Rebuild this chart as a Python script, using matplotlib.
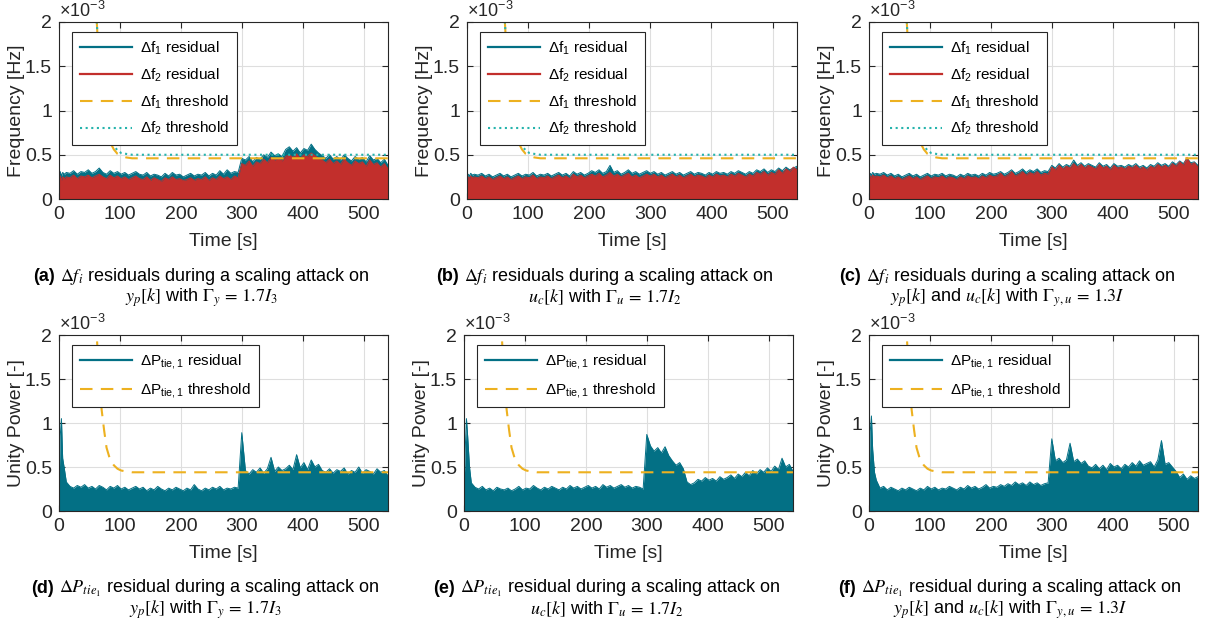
import matplotlib
matplotlib.use("Agg")
import matplotlib.pyplot as plt
from matplotlib.ticker import FuncFormatter

plt.rcParams["font.family"] = ["Liberation Sans", "DejaVu Sans"]
plt.rcParams["mathtext.fontset"] = "custom"
plt.rcParams["mathtext.rm"] = "Liberation Sans"
plt.rcParams["mathtext.it"] = "Liberation Sans:italic"
plt.rcParams["mathtext.bf"] = "Liberation Sans:bold"

# --- data (residual envelopes, units of 1e-3) --------------------------------
# sample times: dense at start (transient), then every 6 s
time_s = [0, 2, 4, 6, 9, 12] + list(range(18, 541, 6))

# (a) scaling attack on y_p, Gamma_y = 1.7 I3
a_df1 = [0.27, 0.31, 0.26, 0.30, 0.28, 0.30,
         0.29, 0.32, 0.28, 0.31, 0.30, 0.33, 0.29, 0.31, 0.35, 0.30,
         0.28, 0.32, 0.29, 0.31, 0.28, 0.30, 0.27, 0.29, 0.31, 0.28,
         0.27, 0.30, 0.26, 0.28, 0.27, 0.25, 0.29, 0.26, 0.30, 0.27,
         0.28, 0.25, 0.27, 0.29, 0.26, 0.28, 0.27, 0.30, 0.26, 0.29,
         0.27, 0.32, 0.28, 0.33, 0.29, 0.31, 0.30,
         0.46, 0.44, 0.48, 0.42, 0.47, 0.45, 0.50, 0.47, 0.53, 0.49,
         0.51, 0.48, 0.56, 0.59, 0.54, 0.58, 0.52, 0.57, 0.55, 0.62,
         0.56, 0.52, 0.49, 0.46, 0.50, 0.45, 0.48, 0.44, 0.50, 0.46,
         0.43, 0.48, 0.45, 0.47, 0.42, 0.49, 0.44, 0.46, 0.41, 0.45, 0.38]
a_df2 = [0.22, 0.26, 0.21, 0.25, 0.23, 0.25,
         0.24, 0.27, 0.23, 0.26, 0.25, 0.27, 0.24, 0.26, 0.28, 0.25,
         0.23, 0.27, 0.24, 0.26, 0.23, 0.25, 0.22, 0.24, 0.26, 0.23,
         0.22, 0.25, 0.21, 0.24, 0.22, 0.20, 0.24, 0.22, 0.25, 0.22,
         0.23, 0.21, 0.22, 0.24, 0.21, 0.23, 0.22, 0.25, 0.21, 0.24,
         0.22, 0.26, 0.23, 0.25, 0.22, 0.26, 0.24,
         0.40, 0.38, 0.43, 0.37, 0.42, 0.40, 0.45, 0.41, 0.47, 0.44,
         0.46, 0.43, 0.48, 0.50, 0.47, 0.51, 0.46, 0.50, 0.48, 0.52,
         0.49, 0.46, 0.44, 0.41, 0.45, 0.40, 0.43, 0.39, 0.45, 0.41,
         0.38, 0.43, 0.40, 0.42, 0.37, 0.44, 0.39, 0.41, 0.36, 0.40, 0.34]

# (b) scaling attack on u_c, Gamma_u = 1.7 I2
b_df1 = [0.24, 0.28, 0.26, 0.29, 0.27, 0.28,
         0.27, 0.29, 0.26, 0.28, 0.25, 0.27, 0.29, 0.26, 0.28, 0.25,
         0.27, 0.29, 0.26, 0.28, 0.27, 0.30, 0.26, 0.28, 0.27, 0.29,
         0.26, 0.28, 0.30, 0.27, 0.29, 0.26, 0.31, 0.28, 0.30, 0.27,
         0.29, 0.32, 0.30, 0.33, 0.29, 0.31, 0.38, 0.30, 0.32, 0.28,
         0.30, 0.33, 0.29, 0.31, 0.28, 0.30, 0.32,
         0.29, 0.31, 0.28, 0.30, 0.27, 0.29, 0.31, 0.28, 0.30, 0.27,
         0.29, 0.31, 0.28, 0.30, 0.29, 0.27, 0.30, 0.28, 0.31, 0.29,
         0.30, 0.28, 0.31, 0.29, 0.32, 0.30, 0.28, 0.31, 0.29, 0.33,
         0.31, 0.34, 0.30, 0.33, 0.31, 0.35, 0.32, 0.36, 0.33, 0.35, 0.37]
b_df2 = [0.21, 0.25, 0.23, 0.26, 0.24, 0.25,
         0.24, 0.26, 0.23, 0.25, 0.22, 0.24, 0.26, 0.23, 0.25, 0.22,
         0.24, 0.26, 0.23, 0.25, 0.24, 0.27, 0.23, 0.25, 0.24, 0.26,
         0.23, 0.25, 0.27, 0.24, 0.26, 0.23, 0.28, 0.25, 0.27, 0.24,
         0.26, 0.28, 0.26, 0.29, 0.25, 0.27, 0.30, 0.26, 0.28, 0.25,
         0.27, 0.29, 0.25, 0.27, 0.24, 0.26, 0.28,
         0.26, 0.28, 0.25, 0.27, 0.24, 0.26, 0.28, 0.25, 0.27, 0.24,
         0.26, 0.28, 0.25, 0.27, 0.26, 0.24, 0.27, 0.25, 0.28, 0.26,
         0.27, 0.25, 0.28, 0.26, 0.29, 0.27, 0.25, 0.28, 0.26, 0.30,
         0.28, 0.31, 0.27, 0.30, 0.28, 0.33, 0.29, 0.34, 0.31, 0.36, 0.33]

# (c) scaling attack on y_p and u_c, Gamma_yu = 1.3 I
c_df1 = [0.25, 0.29, 0.27, 0.30, 0.28, 0.29,
         0.28, 0.30, 0.27, 0.29, 0.26, 0.28, 0.25, 0.27, 0.29, 0.26,
         0.28, 0.25, 0.27, 0.29, 0.26, 0.28, 0.27, 0.29, 0.26, 0.28,
         0.27, 0.25, 0.28, 0.26, 0.29, 0.27, 0.28, 0.26, 0.29, 0.27,
         0.30, 0.28, 0.29, 0.31, 0.28, 0.30, 0.33, 0.29, 0.31, 0.34,
         0.30, 0.33, 0.31, 0.34, 0.30, 0.32, 0.31,
         0.38, 0.35, 0.40, 0.36, 0.39, 0.37, 0.44, 0.38, 0.41, 0.37,
         0.40, 0.38, 0.36, 0.41, 0.37, 0.39, 0.35, 0.40, 0.37, 0.38,
         0.36, 0.39, 0.37, 0.40, 0.36, 0.38, 0.35, 0.39, 0.37, 0.41,
         0.38, 0.40, 0.37, 0.42, 0.39, 0.43, 0.40, 0.46, 0.41, 0.42, 0.38]
c_df2 = [0.22, 0.26, 0.24, 0.27, 0.25, 0.26,
         0.25, 0.27, 0.24, 0.26, 0.23, 0.25, 0.22, 0.24, 0.26, 0.23,
         0.25, 0.22, 0.24, 0.26, 0.23, 0.25, 0.24, 0.26, 0.23, 0.25,
         0.24, 0.22, 0.25, 0.23, 0.26, 0.24, 0.25, 0.23, 0.26, 0.24,
         0.27, 0.25, 0.26, 0.29, 0.25, 0.27, 0.31, 0.26, 0.28, 0.31,
         0.27, 0.30, 0.28, 0.31, 0.27, 0.29, 0.28,
         0.36, 0.33, 0.38, 0.34, 0.37, 0.35, 0.40, 0.36, 0.39, 0.35,
         0.38, 0.36, 0.34, 0.39, 0.35, 0.37, 0.33, 0.38, 0.35, 0.36,
         0.34, 0.37, 0.35, 0.38, 0.34, 0.36, 0.33, 0.37, 0.35, 0.39,
         0.36, 0.38, 0.35, 0.40, 0.37, 0.42, 0.38, 0.47, 0.39, 0.41, 0.36]

# (d)-(f) tie-line power residuals
d_dp = [0.25, 0.85, 1.05, 0.60, 0.47, 0.33,
        0.28, 0.26, 0.29, 0.27, 0.30, 0.26, 0.28, 0.25, 0.29, 0.27,
        0.24, 0.28, 0.26, 0.29, 0.25, 0.27, 0.24, 0.26, 0.28, 0.25,
        0.27, 0.23, 0.26, 0.24, 0.28, 0.25, 0.23, 0.26, 0.24, 0.27,
        0.25, 0.23, 0.26, 0.24, 0.30, 0.25, 0.23, 0.26, 0.24, 0.27,
        0.25, 0.28, 0.24, 0.26, 0.25, 0.27, 0.26,
        0.89, 0.46, 0.42, 0.47, 0.44, 0.49, 0.43, 0.48, 0.61, 0.45,
        0.50, 0.46, 0.48, 0.52, 0.47, 0.64, 0.49, 0.55, 0.47, 0.58,
        0.50, 0.53, 0.46, 0.44, 0.48, 0.43, 0.47, 0.45, 0.49, 0.42,
        0.46, 0.44, 0.50, 0.43, 0.47, 0.45, 0.42, 0.48, 0.44, 0.46, 0.40]
e_dp = [0.25, 0.70, 1.05, 0.85, 0.50, 0.32,
        0.27, 0.25, 0.28, 0.24, 0.26, 0.23, 0.27, 0.25, 0.24, 0.26,
        0.23, 0.25, 0.28, 0.24, 0.26, 0.25, 0.29, 0.26, 0.24, 0.27,
        0.25, 0.28, 0.26, 0.24, 0.27, 0.25, 0.29, 0.26, 0.28, 0.25,
        0.27, 0.29, 0.26, 0.28, 0.25, 0.30, 0.27, 0.29, 0.26, 0.28,
        0.30, 0.27, 0.29, 0.26, 0.28, 0.27, 0.25,
        0.87, 0.74, 0.68, 0.72, 0.66, 0.73, 0.63, 0.57, 0.52, 0.55,
        0.48, 0.33, 0.30, 0.32, 0.36, 0.34, 0.38, 0.35, 0.37, 0.34,
        0.39, 0.36, 0.38, 0.41, 0.37, 0.42, 0.39, 0.44, 0.40, 0.46,
        0.42, 0.47, 0.44, 0.49, 0.45, 0.51, 0.47, 0.60, 0.50, 0.53, 0.45]
f_dp = [0.30, 0.90, 1.08, 0.70, 0.44, 0.35,
        0.26, 0.28, 0.24, 0.27, 0.25, 0.23, 0.26, 0.24, 0.27, 0.25,
        0.23, 0.26, 0.24, 0.28, 0.25, 0.27, 0.24, 0.26, 0.25, 0.28,
        0.26, 0.24, 0.27, 0.25, 0.29, 0.26, 0.28, 0.25, 0.27, 0.30,
        0.26, 0.28, 0.27, 0.30, 0.28, 0.31, 0.29, 0.33, 0.30, 0.32,
        0.29, 0.33, 0.30, 0.32, 0.29, 0.31, 0.32,
        0.82, 0.57, 0.60, 0.55, 0.58, 0.77, 0.56, 0.59, 0.54, 0.57,
        0.51, 0.49, 0.53, 0.48, 0.52, 0.47, 0.54, 0.50, 0.52, 0.48,
        0.53, 0.50, 0.55, 0.51, 0.57, 0.52, 0.54, 0.56, 0.50, 0.58,
        0.80, 0.53, 0.55, 0.50, 0.45, 0.38, 0.42, 0.36, 0.40, 0.37, 0.39]

# adaptive thresholds (same for every scenario)
thr_time = [59, 62, 64, 67, 70, 74, 78, 84, 90, 96, 102, 110, 120, 540]
thr_df1 = [2.4, 2.0, 1.74, 1.44, 1.18, 0.95, 0.78, 0.64, 0.56, 0.51, 0.49, 0.47, 0.46, 0.46]
thr_df2 = [2.4, 2.0, 1.75, 1.46, 1.21, 0.98, 0.82, 0.68, 0.60, 0.55, 0.52, 0.51, 0.50, 0.50]
thr_dp = [2.4, 2.0, 1.72, 1.42, 1.15, 0.92, 0.72, 0.58, 0.52, 0.48, 0.46, 0.45, 0.44, 0.44]

x_ticks = [0, 100, 200, 300, 400, 500]
y_ticks = [0, 0.5, 1, 1.5, 2]

# --- styling -----------------------------------------------------------------
TEAL = "#037085"
RED = "#C22F2C"
YELLOW = "#EDB120"
CYAN = "#25B3AC"
INK = "#262626"
W, H = 1219, 630

fig = plt.figure(figsize=(W / 100, H / 100), dpi=100)


def px_axes(left, top, right, bottom):
    return fig.add_axes([left / W, 1 - bottom / H, (right - left) / W, (bottom - top) / H])


def residual(ax, values, color):
    ax.fill_between(time_s, 0, values, color=color, lw=0)
    ax.plot(time_s, values, color=color, lw=0.7)
    # legend proxy with a heavier stroke
    proxy, = ax.plot([], [], color=color, lw=1.6)
    return proxy


def threshold(ax, values, color, dashes):
    line, = ax.plot(thr_time, values, color=color, lw=1.5)
    line.set_dashes(dashes)
    return line


def style(ax, ylabel):
    ax.set_xlim(0, 540)
    ax.set_ylim(0, 2)
    ax.set_xticks(x_ticks)
    ax.set_yticks(y_ticks)
    ax.yaxis.set_major_formatter(FuncFormatter(lambda v, _: f"{v:g}"))
    ax.tick_params(direction="in", top=True, right=True, labelsize=14,
                   length=4, width=0.8, colors=INK, pad=5)
    ax.grid(True, color="#dedede", lw=0.8)
    ax.set_axisbelow(True)
    for s in ax.spines.values():
        s.set_color(INK)
        s.set_linewidth(0.8)
    ax.set_xlabel("Time [s]", fontsize=14, color=INK, labelpad=7)
    ax.set_ylabel(ylabel, fontsize=14, color=INK, labelpad=0)
    ax.text(0.0, 1.004, r"$\times$10$^{-3}$", transform=ax.transAxes,
            fontsize=13, color=INK, ha="left", va="bottom")


def legend(ax, handles, labels, anchor):
    leg = ax.legend(handles, labels, loc="upper left", bbox_to_anchor=anchor,
                    borderaxespad=0, fontsize=11, handlelength=3.4,
                    handletextpad=0.55, labelspacing=0.62, borderpad=0.5,
                    fancybox=False, framealpha=1, edgecolor=INK)
    leg.get_frame().set_linewidth(0.8)


f_labels = [r"$\Delta$f$_1$ residual", r"$\Delta$f$_2$ residual",
            r"$\Delta$f$_1$ threshold", r"$\Delta$f$_2$ threshold"]
p_labels = [r"$\Delta$P$_{\mathrm{tie,1}}$ residual",
            r"$\Delta$P$_{\mathrm{tie,1}}$ threshold"]

# top row: frequency residuals
top_boxes = [(59, 22, 388, 199), (467, 22, 797, 199), (869, 22, 1198, 199)]
for box, r1, r2 in zip(top_boxes, [a_df1, b_df1, c_df1], [a_df2, b_df2, c_df2]):
    ax = px_axes(*box)
    h1 = residual(ax, r1, TEAL)
    h2 = residual(ax, r2, RED)
    h3 = threshold(ax, thr_df1, YELLOW, (6, 4))
    h4 = threshold(ax, thr_df2, CYAN, (1, 1.7))
    style(ax, "Frequency [Hz]")
    legend(ax, [h1, h2, h3, h4], f_labels, (0.04, 0.945))

# bottom row: tie-line power residuals
bot_boxes = [(59, 335, 388, 511), (464, 335, 793, 511), (869, 335, 1198, 511)]
for box, r in zip(bot_boxes, [d_dp, e_dp, f_dp]):
    ax = px_axes(*box)
    h1 = residual(ax, r, TEAL)
    h2 = threshold(ax, thr_dp, YELLOW, (6, 4))
    style(ax, "Unity Power [-]")
    legend(ax, [h1, h2], p_labels, (0.04, 0.945))

# --- sub-captions ------------------------------------------------------------
captions = [
    ("(a)", r" $\Delta f_i$ residuals during a scaling attack on",
     r"$y_p[k]$ with $\Gamma_y\,=\,1.7I_3$", 201, 281),
    ("(b)", r" $\Delta f_i$ residuals during a scaling attack on",
     r"$u_c[k]$ with $\Gamma_u\,=\,1.7I_2$", 605, 281),
    ("(c)", r" $\Delta f_i$ residuals during a scaling attack on",
     r"$y_p[k]$ and $u_c[k]$ with $\Gamma_{y,u}\,=\,1.3I$", 1007, 281),
    ("(d)", r" $\Delta P_{tie_1}$ residual during a scaling attack on",
     r"$y_p[k]$ with $\Gamma_y\,=\,1.7I_3$", 205, 593),
    ("(e)", r" $\Delta P_{tie_1}$ residual during a scaling attack on",
     r"$u_c[k]$ with $\Gamma_u\,=\,1.7I_2$", 607, 593),
    ("(f)", r" $\Delta P_{tie_1}$ residual during a scaling attack on",
     r"$y_p[k]$ and $u_c[k]$ with $\Gamma_{y,u}\,=\,1.3I$", 1010, 593),
]
CAP = 13
renderer = fig.canvas.get_renderer()
for tag, line1, line2, cx, yb in captions:
    t_tag = fig.text(0, 1 - yb / H, tag, fontsize=CAP, fontweight="bold",
                     color="black", va="baseline")
    t_one = fig.text(0, 1 - yb / H, line1, fontsize=CAP, color="black",
                     va="baseline", math_fontfamily="stix")
    w_tag = t_tag.get_window_extent(renderer).width
    w_one = t_one.get_window_extent(renderer).width
    x0 = cx - (w_tag + w_one) / 2
    t_tag.set_x(x0 / W)
    t_one.set_x((x0 + w_tag) / W)
    fig.text(cx / W, 1 - (yb + 21) / H, line2, fontsize=CAP, color="black",
             ha="center", va="baseline", math_fontfamily="stix")

fig.savefig("out.png", dpi=100)
